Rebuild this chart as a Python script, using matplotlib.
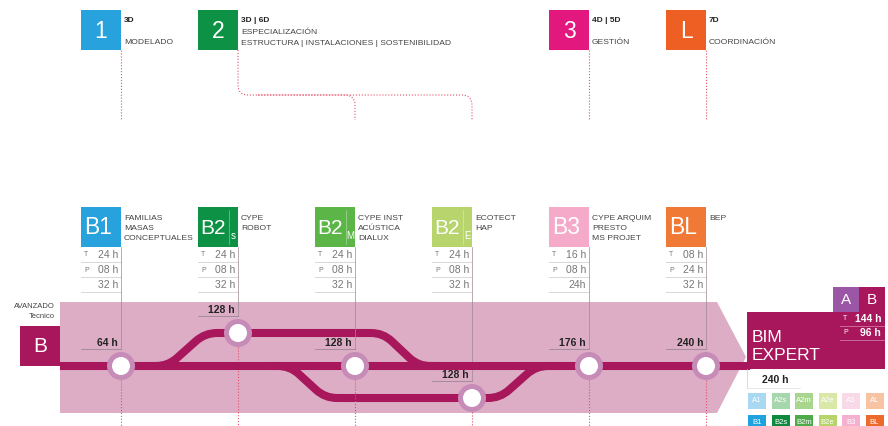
import numpy as np
import matplotlib
matplotlib.use('Agg')
from matplotlib import pyplot as plt
from matplotlib.path import Path
from matplotlib.patches import PathPatch, Rectangle, Circle, Polygon

plt.rcParams['font.family'] = ['Liberation Sans', 'DejaVu Sans']

# ---- data ----
top_labels = ['1', '2', '3', 'L']
top_dims = ['3D', '3D | 6D', '4D | 5D', '7D']
top_desc = ['MODELADO',
            'ESPECIALIZACIÓN\nESTRUCTURA | INSTALACIONES | SOSTENIBILIDAD',
            'GESTIÓN', 'COORDINACIÓN']
top_cols = [0, 1, 4, 5]
top_colors = ['#27a2dc', '#0d9144', '#e2187f', '#ee5f23']

mod_names = ['B1', 'B2', 'B2', 'B2', 'B3', 'BL']
mod_subs = ['', 's', 'M', 'E', '', '']
mod_tools = ['FAMILIAS\nMASAS\nCONCEPTUALES', 'CYPE\nROBOT',
             'CYPE INST\nACÚSTICA\nDIALUX', 'ECOTECT\nHAP',
             'CYPE ARQUIM\nPRESTO\nMS PROJET', 'BEP']
mod_colors = ['#27a2dc', '#0d9144', '#5cb547', '#b8d46c', '#f5aac9', '#f07a35']
teoria = [24, 24, 24, 24, 16, 8]
practica = [8, 8, 8, 8, 8, 24]
totals = ['32 h', '32 h', '32 h', '32 h', '24h', '32 h']

station_hours = [64, 128, 128, 128, 176, 240]
station_track = ['main', 'upper', 'main', 'lower', 'main', 'main']

legend_a = ['A1', 'A2s', 'A2m', 'A2e', 'A3', 'AL']
legend_b = ['B1', 'B2s', 'B2m', 'B2e', 'B3', 'BL']
legend_a_colors = ['#a9d9f2', '#a6d6ab', '#a9d68f', '#d9e8a6', '#f8d9e8', '#f8c3a3']
legend_b_colors = ['#1ea3df', '#0d8a3e', '#4dab4a', '#b6d46a', '#f3b0cf', '#ee6a2c']

expert_teoria = 144
expert_practica = 96
expert_total = 240

# ---- layout ----
col_x = [81 + 117 * i for i in range(6)]
W = 40
track_y = {'main': 366, 'upper': 333, 'lower': 398}
LINE = '#a8175c'
BAND = '#dcadc4'
RING = '#c68bb7'
DOT = '#e4506a'
SMALL = 6.1

fig = plt.figure(figsize=(8.88, 4.26), dpi=100)
ax = fig.add_axes([0, 0, 1, 1])
ax.set_xlim(0, 888)
ax.set_ylim(426, 0)
ax.axis('off')


def rounded(pts, r=12):
    verts = [pts[0]]
    codes = [Path.MOVETO]
    for i in range(1, len(pts) - 1):
        p0, p1, p2 = (np.array(p, float) for p in pts[i - 1:i + 2])
        d1 = (p1 - p0) / np.linalg.norm(p1 - p0)
        d2 = (p2 - p1) / np.linalg.norm(p2 - p1)
        verts += [tuple(p1 - d1 * r), tuple(p1), tuple(p1 + d2 * r)]
        codes += [Path.LINETO, Path.CURVE3, Path.CURVE3]
    verts.append(pts[-1])
    codes.append(Path.LINETO)
    return Path(verts, codes)


def lines(x, y0, txt, step):
    for k, ln in enumerate(txt.split('\n')):
        ax.text(x, y0 + k * step, ln, fontsize=SMALL, color='#444', va='center')


# top boxes
for lab, dim, desc, c, col in zip(top_labels, top_dims, top_desc, top_colors, top_cols):
    x = col_x[col]
    ax.add_patch(Rectangle((x, 10), W, 40, color=c, lw=0))
    ax.text(x + W / 2, 31, lab, color='white', fontsize=16.5, ha='center', va='center')
    ax.text(x + W + 3, 21, dim, fontsize=6, fontweight='bold', color='#222', va='center')
    if '\n' in desc:
        lines(x + W + 3, 33, desc, 10.5)
    else:
        lines(x + W + 3, 43, desc, 10)
    if col != 1:
        ax.plot([x + W, x + W], [50, 120], color=DOT, lw=0.8, ls=':')

# dotted connector from box 2 to B2 columns
x2 = col_x[1] + W
ax.add_patch(PathPatch(rounded([(x2, 50), (x2, 95), (col_x[3] + W, 95), (col_x[3] + W, 120)], 10),
                       fill=False, ec=DOT, lw=0.8, ls=':'))
ax.add_patch(PathPatch(rounded([(x2 + 20, 95), (col_x[2] + W, 95), (col_x[2] + W, 120)], 10),
                       fill=False, ec=DOT, lw=0.8, ls=':'))

# pink band
ax.add_patch(Polygon([(60, 302), (717, 302), (746, 357), (717, 413), (60, 413)],
                     closed=True, color=BAND, lw=0))

# module boxes and tables
for i, x in enumerate(col_x):
    ax.add_patch(Rectangle((x, 207), W, 40, color=mod_colors[i], lw=0))
    if mod_subs[i]:
        ax.text(x + 2, 228, mod_names[i], color='white', fontsize=15, ha='left', va='center')
        ax.plot([x + 31, x + 31], [210, 244], color='white', lw=0.4, alpha=0.6)
        ax.text(x + 35.5, 236, mod_subs[i], color='white', fontsize=7, ha='center', va='center')
    else:
        ax.text(x + 3, 228, mod_names[i], color='white', fontsize=16.5, ha='left', va='center')
    lines(x + W + 3, 219, mod_tools[i], 9.5)
    for yl in [262, 277, 292]:
        ax.plot([x, x + W], [yl, yl], color='#d8d8d8', lw=0.7)
    ax.text(x + 3, 255, 'T', fontsize=5, color='#777', va='center')
    ax.text(x + 3, 270, 'P', fontsize=5, color='#777', va='center')
    ax.text(x + W - 3, 255, '%02d h' % teoria[i], fontsize=7.5, color='#777', ha='right', va='center')
    ax.text(x + W - 3, 270, '%02d h' % practica[i], fontsize=7.5, color='#777', ha='right', va='center')
    ax.text(x + W - 3, 285, totals[i], fontsize=7.5, color='#777', ha='right', va='center')

# left B box
ax.add_patch(Rectangle((20, 326), 40, 40, color=LINE, lw=0))
ax.text(40, 347, 'B', color='white', fontsize=15, ha='center', va='center')
ax.text(55, 306, 'AVANZADO', fontsize=5.5, color='#444', ha='right', va='center')
ax.text(55, 317, 'Tecnico', fontsize=5.5, color='#444', ha='right', va='center')

# grey guides and red dotted lines under stations
for i, x in enumerate(col_x):
    sy = track_y[station_track[i]]
    ax.plot([x + W, x + W], [247, sy - 17], color='#9a8a95', lw=0.5)
    ax.plot([x + W, x + W], [sy + 14, 426], color=DOT, lw=0.8, ls=':')

# metro tracks
lw = 5.8
ax.plot([60, 750], [366, 366], color=LINE, lw=lw, solid_capstyle='butt')
ax.add_patch(PathPatch(rounded([(150, 366), (168, 366), (205, 333), (383, 333), (418, 366), (440, 366)], 12),
                       fill=False, ec=LINE, lw=lw))
ax.add_patch(PathPatch(rounded([(270, 366), (290, 366), (325, 398), (500, 398), (536, 366), (555, 366)], 12),
                       fill=False, ec=LINE, lw=lw))

# stations
for i, x in enumerate(col_x):
    sx = x + W
    sy = track_y[station_track[i]]
    ax.add_patch(Circle((sx, sy), 14, color=RING, lw=0, zorder=5))
    ax.add_patch(Circle((sx, sy), 9, color='white', lw=0, zorder=6))
    ax.plot([x, sx], [sy - 17, sy - 17], color='#8c8088', lw=0.5)
    ax.text(sx - 3, sy - 23, '%d h' % station_hours[i], fontsize=7.5, fontweight='bold',
            color='#222', ha='right', va='center')

# BIM EXPERT box
ax.add_patch(Rectangle((747, 312), 138, 57, color=LINE, lw=0))
ax.add_patch(Rectangle((833, 287), 26, 25, color='#9b56a6', lw=0))
ax.add_patch(Rectangle((859, 287), 26, 25, color=LINE, lw=0))
ax.text(846, 300, 'A', color='white', fontsize=11, ha='center', va='center')
ax.text(872, 300, 'B', color='white', fontsize=11, ha='center', va='center')
ax.text(752, 337, 'BIM', color='white', fontsize=12.5, ha='left', va='center')
ax.text(752, 356, 'EXPERT', color='white', fontsize=12.5, ha='left', va='center')
ax.text(843, 319, 'T', color='white', fontsize=5, va='center')
ax.text(843, 333, 'P', color='white', fontsize=5, va='center')
ax.text(881, 319, '%d h' % expert_teoria, color='white', fontsize=7.5, fontweight='bold', ha='right', va='center')
ax.text(881, 333, '%d h' % expert_practica, color='white', fontsize=7.5, fontweight='bold', ha='right', va='center')
ax.plot([840, 884], [326, 326], color='white', lw=0.5, alpha=0.5)
ax.plot([840, 884], [340, 340], color='white', lw=0.5, alpha=0.5)
ax.plot([747, 747], [369, 388], color='#cccccc', lw=0.5)
ax.plot([747, 800], [388, 388], color='#dddddd', lw=0.5)
ax.text(775, 380, '%d h' % expert_total, fontsize=7.5, fontweight='bold', color='#222', ha='center', va='center')

# legend squares
for j in range(6):
    lx = 748 + 23.5 * j
    ax.add_patch(Rectangle((lx, 393), 18, 16, color=legend_a_colors[j], lw=0))
    ax.text(lx + 9, 401, legend_a[j], color='white', fontsize=5.5, ha='center', va='center')
    ax.add_patch(Rectangle((lx, 415), 18, 16, color=legend_b_colors[j], lw=0))
    ax.text(lx + 9, 423, legend_b[j], color='white', fontsize=5.5, ha='center', va='center')

fig.savefig('out.png', dpi=100)
